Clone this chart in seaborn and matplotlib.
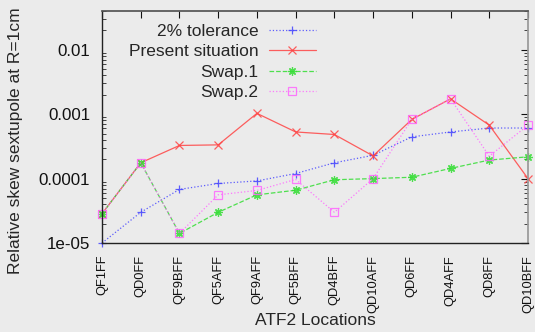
import matplotlib
matplotlib.use("Agg")
import matplotlib.pyplot as plt
import seaborn as sns
import numpy as np
from matplotlib.ticker import FixedLocator, FixedFormatter, LogLocator, NullFormatter

locations = ["QF1FF", "QD0FF", "QF9BFF", "QF5AFF", "QF9AFF", "QF5BFF", "QD4BFF",
             "QD10AFF", "QD6FF", "QD4AFF", "QD8FF", "QD10BFF"]
tolerance_2pct = [1.0e-5, 3.0e-5, 6.8e-5, 8.4e-5, 9.2e-5, 1.2e-4, 1.76e-4,
                  2.3e-4, 4.45e-4, 5.3e-4, 6.1e-4, 6.1e-4]
present = [2.85e-5, 1.76e-4, 3.27e-4, 3.34e-4, 1.03e-3, 5.3e-4, 4.84e-4,
           2.25e-4, 8.3e-4, 1.73e-3, 6.76e-4, 1.0e-4]
swap1 = [2.85e-5, 1.76e-4, 1.41e-5, 3.0e-5, 5.6e-5, 6.6e-5, 9.6e-5,
         1.0e-4, 1.05e-4, 1.44e-4, 1.94e-4, 2.18e-4]
swap2 = [2.85e-5, 1.76e-4, 1.41e-5, 5.6e-5, 6.55e-5, 9.7e-5, 3.0e-5,
         1.0e-4, 8.3e-4, 1.73e-3, 2.23e-4, 6.76e-4]
ytick_vals = [1e-5, 1e-4, 1e-3, 1e-2]
ytick_labels = ["1e-05", "0.0001", "0.001", "0.01"]

sns.set_theme(style="white")
plt.rcParams['font.family'] = ['Liberation Sans', 'DejaVu Sans']

bg = "#ebebeb"
fig = plt.figure(figsize=(5.35, 3.32), dpi=100, facecolor=bg)
ax = fig.add_axes([0.1907, 0.268, 0.7962, 0.6989])
ax.set_facecolor(bg)

series = [
    ("2% tolerance", tolerance_2pct, "#4444ff", "+", ":", 6),
    ("Present situation", present, "#ff4444", "x", "-", 5.5),
    ("Swap.1", swap1, "#33dd33", (8, 2, 0), "--", 6),
    ("Swap.2", swap2, "#ff66ff", "s", ":", 5.5),
]
for label, vals, col, mk, ls, ms in series:
    kw = dict(markerfacecolor="none") if mk == "s" else {}
    sns.lineplot(x=locations, y=vals, ax=ax, color=col, marker=mk, linestyle=ls,
                 linewidth=0.9, markersize=ms, markeredgewidth=0.9,
                 markeredgecolor=col, label=label, clip_on=False, alpha=0.85,
                 sort=False, **kw)

ax.set_yscale("log")
ax.set_ylim(1e-5, 0.04)
ax.set_xlim(0, len(locations) - 1)
ax.yaxis.set_major_locator(FixedLocator(ytick_vals))
ax.yaxis.set_major_formatter(FixedFormatter(ytick_labels))
ax.yaxis.set_minor_locator(LogLocator(base=10, subs=np.arange(2, 10)))
ax.yaxis.set_minor_formatter(NullFormatter())
ax.set_xticks(range(len(locations)))
ax.set_xticklabels(locations, rotation=90)

ax.tick_params(axis="both", which="major", direction="in", length=5, width=0.8,
               top=True, right=True, colors="#111111")
ax.tick_params(axis="y", which="major", labelsize=12.2, pad=8.5)
ax.tick_params(axis="x", which="major", labelsize=9.3, pad=8.6)
ax.tick_params(axis="y", which="minor", direction="in", length=3, width=0.6,
               left=True, right=True)

for s in ["left", "bottom"]:
    ax.spines[s].set_color("#222222")
    ax.spines[s].set_linewidth(1.0)
ax.spines["top"].set_color("#555555")
ax.spines["right"].set_color("#999999")

ax.set_xlabel("ATF2 Locations", fontsize=12.5)
ax.xaxis.set_label_coords(0.5, -0.303)
ax.set_ylabel("Relative skew sextupole at R=1cm", fontsize=12.5)
ax.yaxis.set_label_coords(-0.185, 0.44)

leg = ax.legend(loc="upper right", bbox_to_anchor=(0.502, 0.945), frameon=False,
                markerfirst=False, fontsize=12.5, handlelength=2.7,
                handletextpad=0.62, labelspacing=0.3, borderpad=0,
                borderaxespad=0)

fig.savefig("out.png", dpi=100, facecolor=bg)
